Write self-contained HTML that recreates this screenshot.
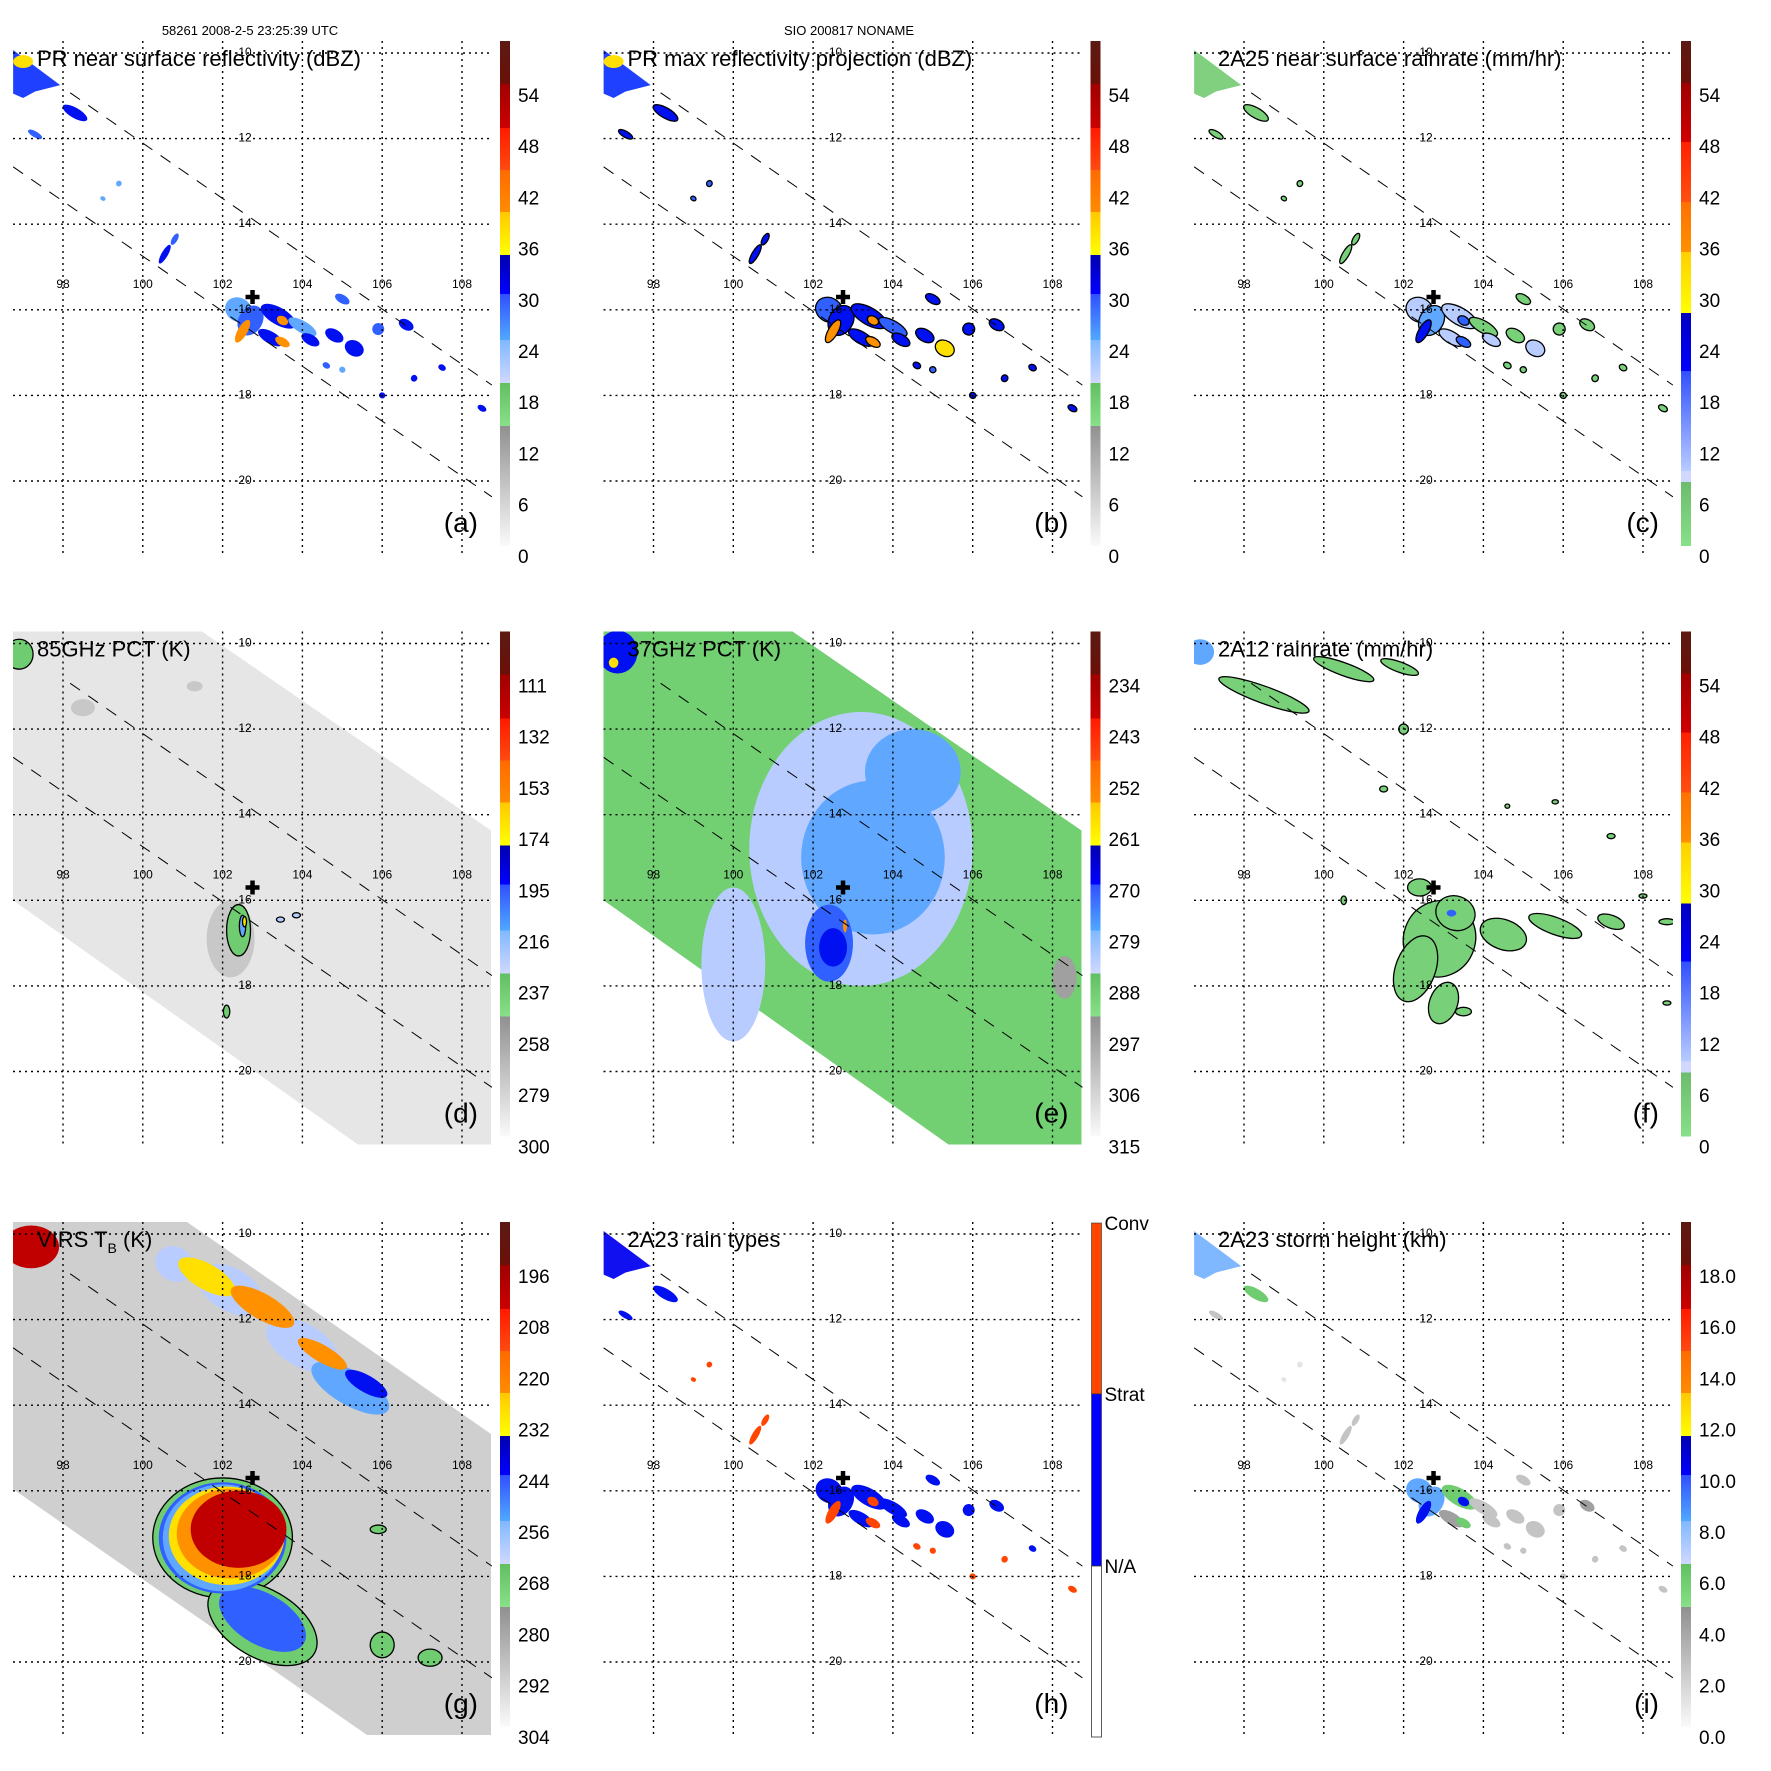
<!DOCTYPE html>
<html><head><meta charset="utf-8">
<style>
html,body{margin:0;padding:0;background:#fff;}
svg{display:block;font-family:"Liberation Sans",Arial,sans-serif;}
</style></head>
<body>
<svg id="fig" width="1771" height="1771" viewBox="0 0 1771 1771" xmlns="http://www.w3.org/2000/svg">
<text x="250" y="35" font-size="13" text-anchor="middle">58261 2008-2-5 23:25:39 UTC</text>
<text x="849" y="35" font-size="13" text-anchor="middle">SIO 200817 NONAME</text>
</svg>
<script>
// ---- data arrays (lon, lat, semi-extent in degrees, values) ----
const prLon=[102.4,102.7,102.5,103.4,103.5,104.0,103.2,103.5,104.2,104.8,105.3,105.0,105.9,106.6,104.6,106.8,107.5,108.5,106.0,105.0,98.3,97.3,100.55,100.8,99.4,99.0];
const prLat=[-16.0,-16.25,-16.5,-16.15,-16.25,-16.4,-16.65,-16.75,-16.7,-16.6,-16.9,-15.75,-16.45,-16.35,-17.3,-17.6,-17.35,-18.3,-18.0,-17.4,-11.4,-11.9,-14.7,-14.35,-13.05,-13.4];
const prExtLon=[0.35,0.3,0.12,0.5,0.15,0.4,0.35,0.2,0.25,0.25,0.25,0.2,0.15,0.2,0.1,0.08,0.1,0.12,0.08,0.08,0.35,0.2,0.08,0.07,0.07,0.07];
const prExtLat=[0.28,0.37,0.3,0.2,0.1,0.14,0.14,0.1,0.12,0.14,0.18,0.1,0.14,0.12,0.07,0.08,0.07,0.07,0.07,0.07,0.12,0.07,0.25,0.15,0.07,0.05];
const prDbz=[26,29,38,31,38,24,30,38,31,30,32,28,28,30,28,31,30,30,30,26,30,28,30,28,24,24];
const prMaxDbz=[28,31,40,32,39,27,31,39,32,31,33,30,30,31,30,32,31,31,31,29,31,30,31,30,27,27];
const prRain=[8,12,28,10,22,4,9,20,8,5,10,3,3,4,3,4,3,3,3,3,4,3,4,3,2,2];
const prType=[1,1,2,1,2,1,1,2,1,1,1,1,1,1,2,2,1,2,2,2,1,1,2,2,2,2];
const prHeight=[8.5,9,10.5,5.5,10,3,4,6,3,3,3.5,2.5,3,5,2,2,2,2,2,2,5.5,2.5,2,2,1.5,1.5];

const d85Lon=[102.2,102.4,102.5,102.55,103.45,103.85,102.1,98.5,96.9,101.3];
const d85Lat=[-16.9,-16.7,-16.6,-16.5,-16.45,-16.35,-18.6,-11.5,-10.25,-11.0];
const d85ExtLon=[0.6,0.3,0.08,0.05,0.1,0.1,0.08,0.3,0.35,0.2];
const d85ExtLat=[0.9,0.6,0.25,0.12,0.06,0.06,0.15,0.2,0.35,0.12];
const d85Val=[268,246,215,180,222,222,246,276,245,276];

const e37Lon=[103.2,100.0,103.5,102.4,102.5,102.8,108.3,97.1,97.0,104.5];
const e37Lat=[-14.8,-17.5,-15.0,-17.0,-17.1,-16.6,-17.8,-10.2,-10.45,-13.0];
const e37ExtLon=[2.8,0.8,1.8,0.6,0.35,0.05,0.3,0.5,0.12,1.2];
const e37ExtLat=[3.2,1.8,1.8,0.9,0.45,0.15,0.5,0.5,0.12,1.0];
const e37Val=[284,284,278,272,267,261,296,268,262,278];

const gIrLon=[102.0,102.0,102.0,102.1,102.2,102.4,102.9,103.0,103.0,97.2,100.8,102.2,104.0,105.2,101.6,103.0,104.5,105.6,105.9,107.2,106.0];
const gIrLat=[-17.1,-17.1,-17.1,-17.05,-17.0,-16.9,-16.9,-19.1,-19.0,-10.3,-10.7,-11.3,-12.6,-13.6,-11.0,-11.7,-12.8,-13.5,-16.9,-19.9,-19.6];
const gIrExtLon=[1.75,1.6,1.5,1.45,1.35,1.2,0.6,1.5,1.2,0.7,0.5,0.9,1.0,1.1,0.8,0.9,0.7,0.6,0.2,0.3,0.3];
const gIrExtLat=[1.4,1.3,1.25,1.15,1.05,0.9,0.5,0.8,0.6,0.5,0.4,0.5,0.5,0.4,0.3,0.3,0.2,0.2,0.1,0.2,0.3];
const gIrVal=[266,248,256,234,224,206,200,266,245,205,262,258,262,255,235,228,230,240,266,266,266];

const fRainLon=[102.9,102.3,103.3,103.0,104.5,105.8,107.2,98.5,100.5,101.9,103.2,101.5,102.0,104.6,105.8,107.2,108.0,108.6,108.6,103.5,100.5,102.4,96.9];
const fRainLat=[-16.9,-17.6,-16.3,-18.4,-16.8,-16.6,-16.5,-11.2,-10.6,-10.55,-16.3,-13.4,-12.0,-13.8,-13.7,-14.5,-15.9,-16.5,-18.4,-18.6,-16.0,-15.7,-10.2];
const fRainExtLon=[0.9,0.5,0.5,0.35,0.6,0.7,0.35,1.2,0.8,0.5,0.12,0.1,0.12,0.06,0.08,0.1,0.1,0.2,0.1,0.2,0.07,0.3,0.35];
const fRainExtLat=[0.9,0.8,0.4,0.5,0.35,0.2,0.15,0.2,0.15,0.12,0.08,0.07,0.12,0.05,0.05,0.06,0.05,0.07,0.05,0.1,0.1,0.2,0.3];
const fRainVal=[3,3,3,3,3,3,3,3,3,3,20,3,3,3,3,3,3,3,3,3,3,3,12];

const lonTicks=[98,100,102,104,106,108];
const latTicks=[-10,-12,-14,-16,-18,-20];
const cbLabelsA=["54","48","42","36","30","24","18","12","6","0"];
const cbLabelsD=["111","132","153","174","195","216","237","258","279","300"];
const cbLabelsE=["234","243","252","261","270","279","288","297","306","315"];
const cbLabelsG=["196","208","220","232","244","256","268","280","292","304"];
const cbLabelsI=["18.0","16.0","14.0","12.0","10.0","8.0","6.0","4.0","2.0","0.0"];
const stormLon=102.75, stormLat=-15.7;

// ---- geometry ----
const NS="http://www.w3.org/2000/svg";
const svg=document.getElementById('fig');
const px=lon=>63+(lon-98)*39.9;
const py=lat=>53+(-10-lat)*42.8;
function mk(tag,attrs,parent){const e=document.createElementNS(NS,tag);for(const k in attrs)e.setAttribute(k,attrs[k]);parent.appendChild(e);return e;}

const cbA=[[41,84,'#5c1a12','#6a1008'],[84,128,'#a00000','#cc0000'],[128,170,'#ff1a00','#ff4a10'],[170,212,'#ff6a00','#ff8c00'],[212,255,'#ffc800','#ffff00'],[255,294,'#0000b0','#0000ff'],[294,340,'#3050ff','#50a8ff'],[340,383,'#80b8ff','#d0d8ff'],[383,426,'#60c060','#88e088'],[426,546,'#909090','#fafafa']];
const cbC=[[41,83,'#5c1a12','#6a1008'],[83,142,'#a00000','#d00000'],[142,202,'#ff2000','#ff5010'],[202,252,'#ff7000','#ff9000'],[252,313,'#ffd000','#ffff00'],[313,371,'#0000c0','#0000ff'],[371,471,'#3050ff','#b8ccff'],[471,482,'#d0d8ff','#d0d8ff'],[482,546,'#6cbc6c','#88e088']];

function colA(t){
  if(t>=54)return'#6a1008'; if(t>=48)return'#c00000'; if(t>=42)return'#ff3000'; if(t>=36)return'#ff9000';
  if(t>=33)return'#ffe000'; if(t>=30)return'#0010f0'; if(t>=27)return'#3060ff';
  if(t>=24)return'#60a8ff'; if(t>=20)return'#b8ccff'; if(t>=15)return'#70cc70';
  if(t>=10)return'#a0a0a0'; if(t>=5)return'#c8c8c8'; return'#e8e8e8';
}
function colC(v){ if(v>=30)return'#ffe000'; if(v>=24)return'#0010f0'; if(v>=18)return'#3060ff'; if(v>=12)return'#60a8ff'; if(v>=8)return'#b8ccff'; return'#78d078';}
function colD(v){ return colA((300-v)*54/189);}
function colE(v){ return colA((315-v)*54/81);}
function colG(v){ return colA((304-v)*54/108);}
function colI(v){ if(v>=12)return'#ffe000'; if(v>=10)return'#0010f0'; if(v>=8)return'#60a8ff'; if(v>=7)return'#b8ccff'; if(v>=5.5)return'#70cc70'; if(v>=4)return'#a0a0a0'; if(v>=2)return'#c4c4c4'; return'#e4e4e4';}

const panels=[
 {k:'a',c:0,r:0,title:'PR near surface reflectivity (dBZ)',cb:cbA,lab:cbLabelsA},
 {k:'b',c:1,r:0,title:'PR max reflectivity projection (dBZ)',cb:cbA,lab:cbLabelsA},
 {k:'c',c:2,r:0,title:'2A25 near surface rainrate (mm/hr)',cb:cbC,lab:cbLabelsA},
 {k:'d',c:0,r:1,title:'85GHz PCT (K)',cb:cbA,lab:cbLabelsD},
 {k:'e',c:1,r:1,title:'37GHz PCT (K)',cb:cbA,lab:cbLabelsE},
 {k:'f',c:2,r:1,title:'2A12 rainrate (mm/hr)',cb:cbC,lab:cbLabelsA},
 {k:'g',c:0,r:2,title:'VIRS T',cb:cbA,lab:cbLabelsG},
 {k:'h',c:1,r:2,title:'2A23 rain types',cb:null,lab:null},
 {k:'i',c:2,r:2,title:'2A23 storm height (km)',cb:cbA,lab:cbLabelsI}
];

const defs=mk('defs',{},svg);
function blob(g,lon,lat,elon,elat,fill,rot,stroke){
  const cx=px(lon),cy=py(lat);
  const a={cx:cx,cy:cy,rx:Math.max(1.5,elon*39.9),ry:Math.max(1.5,elat*42.8),fill:fill};
  if(rot)a.transform='rotate('+rot+' '+cx+' '+cy+')';
  if(stroke){a.stroke=stroke;a['stroke-width']=1.3;}
  return mk('ellipse',a,g);
}
function poly(g,pts,fill){
  return mk('polygon',{points:pts.map(p=>px(p[0])+','+py(p[1])).join(' '),fill:fill},g);
}
const cornerTri=[[96.75,-9.93],[97.93,-10.75],[97.3,-10.9],[97.0,-11.05],[96.75,-10.95]];
const tmiSwath=[[96.747,-9.72],[101.484,-9.72],[108.727,-14.37],[108.727,-21.706],[105.393,-21.706],[96.747,-16.0]];
const virsSwath=[[96.747,-9.72],[101.108,-9.72],[108.727,-14.673],[108.727,-21.706],[105.62,-21.706],[96.747,-15.958]];

panels.forEach((p,idx)=>{
  const ox=p.c*590.5, oy=p.r*590.5;
  const g=mk('g',{transform:'translate('+ox+','+oy+')'},svg);
  
  
  const cp=mk('clipPath',{id:'clip'+p.k},defs);
  mk('rect',{x:13,y:41,width:479,height:513},cp);
  const m=mk('g',{'clip-path':'url(#clip'+p.k+')'},g);
  
  

  if(p.k==='a'||p.k==='b'||p.k==='c'||p.k==='h'||p.k==='i'){
    const cornerFill={a:'#2040ff',b:'#2040ff',c:'#80d080',h:'#1010f0',i:'#80b8ff'}[p.k];
    const t=poly(m,cornerTri,cornerFill);
    
    
    if(p.k==='a'||p.k==='b'){const y=blob(m,97.0,-10.2,0.25,0.15,'#ffe000',0);  }
    for(let i=0;i<prLon.length;i++){
      let fill,stroke=null;
      if(p.k==='a')fill=colA(prDbz[i]);
      else if(p.k==='b'){fill=colA(prMaxDbz[i]);stroke='#000';}
      else if(p.k==='c'){fill=colC(prRain[i]);stroke='#000';}
      else if(p.k==='h')fill=prType[i]===2?'#ff4500':'#0010f0';
      else fill=colI(prHeight[i]);
      const e=blob(m,prLon[i],prLat[i],prExtLon[i],prExtLat[i],fill,30,stroke);
      
      
    }
  } else if(p.k==='d'){
    const s=poly(m,tmiSwath,'#e6e6e6');  
    for(let i=0;i<d85Lon.length;i++){
      const e=blob(m,d85Lon[i],d85Lat[i],d85ExtLon[i],d85ExtLat[i],colD(d85Val[i]),0,d85Val[i]<255?'#000':null);
      
      
    }
  } else if(p.k==='e'){
    const s=poly(m,tmiSwath,'#72cf72');  
    for(let i=0;i<e37Lon.length;i++){
      const e=blob(m,e37Lon[i],e37Lat[i],e37ExtLon[i],e37ExtLat[i],colE(e37Val[i]),0,null);
      
      
    }
  } else if(p.k==='f'){
    for(let i=0;i<fRainLon.length;i++){
      const e=blob(m,fRainLon[i],fRainLat[i],fRainExtLon[i],fRainExtLat[i],colC(fRainVal[i]),i<10?20:0,fRainVal[i]<10?'#000':null);
      
      
    }
  } else if(p.k==='g'){
    const s=poly(m,virsSwath,'#cfcfcf');  
    const order=[0,7,1,8,2,3,4,5,6,9,10,11,12,13,14,15,16,17,18,19,20];
    order.forEach(i=>{
      const e=blob(m,gIrLon[i],gIrLat[i],gIrExtLon[i],gIrExtLat[i],colG(gIrVal[i]),(i===7||i===8||i>=10&&i<=17)?30:0,(gIrVal[i]>=264)?'#000':null);
      
      
    });
  }

  const sw1=mk('line',{x1:px(98.18),y1:py(-10.93),x2:px(108.75),y2:py(-17.76),stroke:'#000','stroke-width':1,'stroke-dasharray':'12,10'},m);
  
  
  const sw2=mk('line',{x1:px(96.75),y1:py(-12.66),x2:px(108.75),y2:py(-20.37),stroke:'#000','stroke-width':1,'stroke-dasharray':'12,10'},m);
  
  

  lonTicks.forEach(lo=>{
    const l=mk('line',{x1:px(lo),y1:41,x2:px(lo),y2:554,stroke:'#000','stroke-width':1.4,'stroke-dasharray':'2,4'},g);
    
    
    const t=mk('text',{x:px(lo),y:288,'font-size':12,'text-anchor':'middle'},g);
    t.textContent=lo;
    
    
  });
  latTicks.forEach(la=>{
    const l=mk('line',{x1:13,y1:py(la),x2:492,y2:py(la),stroke:'#000','stroke-width':1.4,'stroke-dasharray':'2,4'},g);
    
    
    const t=mk('text',{x:243,y:py(la)+3,'font-size':12,'text-anchor':'middle'},g);
    t.textContent=la;
    
    
  });

  const sx=px(stormLon), sy=py(stormLat);
  const pl=mk('path',{d:'M'+(sx-7)+' '+sy+'H'+(sx+7)+'M'+sx+' '+(sy-7)+'V'+(sy+7),stroke:'#000','stroke-width':4.5},g);
  
  

  const tt=mk('text',{x:37,y:66,'font-size':22},g);
  tt.textContent=p.title;
  if(p.k==='g'){const sub=mk('tspan',{'font-size':14,dy:6},tt);sub.textContent='B';const s2=mk('tspan',{dy:-6},tt);s2.textContent=' (K)';}
  
  
  const lt=mk('text',{x:478,y:532,'font-size':28,'text-anchor':'end'},g);
  lt.textContent='('+p.k+')';
  
  

  const cb=mk('g',{},g);
  
  
  if(p.cb){
    p.cb.forEach((s,j)=>{
      const gid='grad'+p.k+j;
      const lg=mk('linearGradient',{id:gid,x1:0,y1:0,x2:0,y2:1},defs);
      mk('stop',{offset:0,'stop-color':s[2]},lg);
      mk('stop',{offset:1,'stop-color':s[3]},lg);
      mk('rect',{x:500,y:s[0],width:10,height:s[1]-s[0],fill:'url(#'+gid+')'},cb);
    });
    p.lab.forEach((lb,j)=>{
      const t=mk('text',{x:518,y:95+j*51.2+7,'font-size':19},cb);
      t.textContent=lb;
      
      
    });
  } else {
    mk('rect',{x:501,y:42,width:10,height:171,fill:'#ff4500',stroke:'#333','stroke-width':0.6},cb);
    mk('rect',{x:501,y:213,width:10,height:172,fill:'#0000ff',stroke:'#333','stroke-width':0.6},cb);
    mk('rect',{x:501,y:385,width:10,height:171,fill:'#fff',stroke:'#333','stroke-width':0.8},cb);
    [['Conv',49],['Strat',220],['N/A',392]].forEach(a=>{
      const t=mk('text',{x:514,y:a[1],'font-size':19},cb);
      t.textContent=a[0];
      
      
    });
  }
});
</script>
</body></html>
